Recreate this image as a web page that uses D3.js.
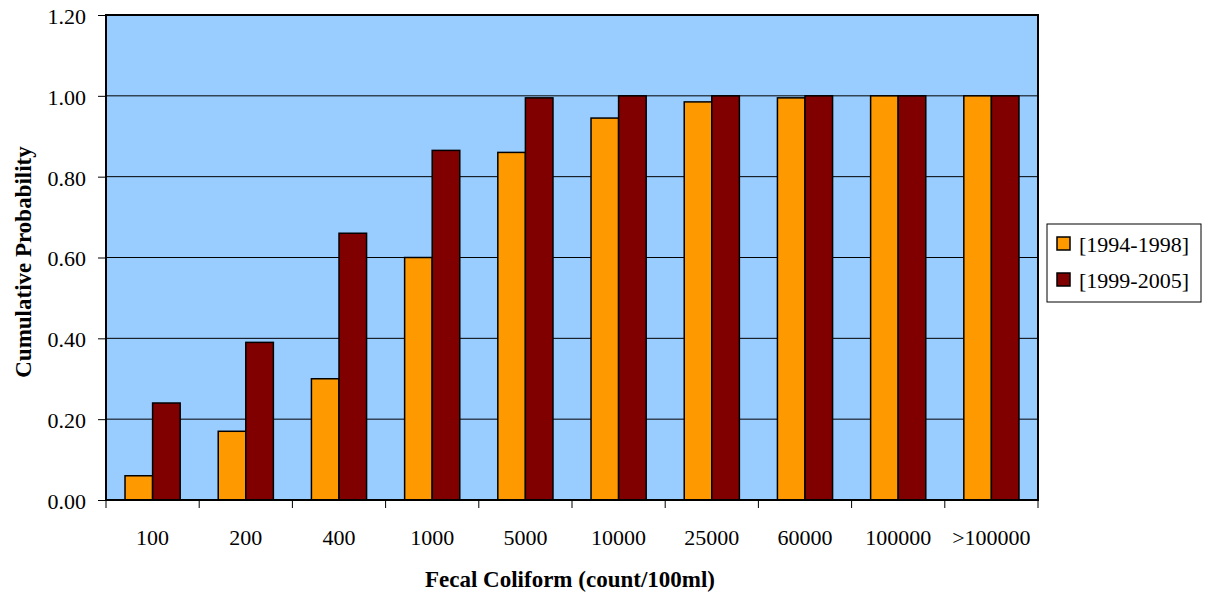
<!DOCTYPE html>
<html>
<head>
<meta charset="utf-8">
<script src="https://cdn.jsdelivr.net/npm/d3@7"></script>
<style>
  body { margin: 0; background: #fff; }
  text { font-family: "Liberation Serif", "Times New Roman", serif; fill: #000; }
</style>
</head>
<body>
<script>
(function (d3) {
    "use strict";

    /***** Data *****/
    var categories = ["100", "200", "400", "1000", "5000", "10000", "25000", "60000", "100000", ">100000"];
    var seriesNames = ["[1994-1998]", "[1999-2005]"];
    var values1994 = [0.06, 0.17, 0.30, 0.60, 0.86, 0.945, 0.985, 0.995, 1.00, 1.00];
    var values1999 = [0.24, 0.39, 0.66, 0.865, 0.995, 1.00, 1.00, 1.00, 1.00, 1.00];
    var yTicks = [0, 0.2, 0.4, 0.6, 0.8, 1.0, 1.2];
    var colors = ["#FF9900", "#800000"];

    /***** Configuration *****/
    var width = 1210, height = 596;
    var plot = { left: 106, top: 15, right: 1038, bottom: 500 };

    var svg = d3.select("body").append("svg")
        .attr("width", width)
        .attr("height", height);

    /***** Scales *****/
    var xScale = d3.scaleBand().domain(categories).range([plot.left, plot.right]);
    var xInner = d3.scaleBand().domain([0, 1])
        .range([0, xScale.bandwidth()])
        .paddingInner(0)
        .paddingOuter(0.69);
    var yScale = d3.scaleLinear().domain([0, 1.2]).range([plot.bottom, plot.top]);

    /***** Plot background *****/
    svg.append("rect")
        .attr("x", plot.left).attr("y", plot.top)
        .attr("width", plot.right - plot.left)
        .attr("height", plot.bottom - plot.top)
        .attr("fill", "#99CCFF");

    // gridlines
    svg.append("g").selectAll("line")
        .data(yTicks.filter(function (t) { return t > 0 && t < 1.2; }))
        .join("line")
        .attr("x1", plot.left).attr("x2", plot.right)
        .attr("y1", function (d) { return yScale(d); })
        .attr("y2", function (d) { return yScale(d); })
        .attr("stroke", "#000").attr("stroke-width", 1);

    /***** Bars *****/
    var series = [values1994, values1999];
    series.forEach(function (vals, si) {
        svg.append("g").selectAll("rect")
            .data(vals)
            .join("rect")
            .attr("x", function (d, i) { return xScale(categories[i]) + xInner(si); })
            .attr("y", function (d) { return yScale(d); })
            .attr("width", xInner.bandwidth())
            .attr("height", function (d) { return plot.bottom - yScale(d); })
            .attr("fill", colors[si])
            .attr("stroke", "#000")
            .attr("stroke-width", 1.5);
    });

    // plot border
    svg.append("rect")
        .attr("x", plot.left).attr("y", plot.top)
        .attr("width", plot.right - plot.left)
        .attr("height", plot.bottom - plot.top)
        .attr("fill", "none")
        .attr("stroke", "#000").attr("stroke-width", 2);

    /***** Axes *****/
    var yAxis = d3.axisLeft(yScale)
        .tickValues(yTicks)
        .tickFormat(d3.format(".2f"))
        .tickSize(8)
        .tickPadding(12);
    var gy = svg.append("g")
        .attr("transform", "translate(" + plot.left + ",0)")
        .call(yAxis);
    gy.select(".domain").remove();
    gy.selectAll("line").attr("stroke", "#000");
    gy.selectAll("text")
        .style("font-family", "'Liberation Serif', serif")
        .style("font-size", "22px")
        .attr("dy", "0.38em");

    // x ticks at category boundaries
    var bounds = categories.map(function (c) { return xScale(c); }).concat([plot.right]);
    svg.append("g").selectAll("line")
        .data(bounds)
        .join("line")
        .attr("x1", function (d) { return d; }).attr("x2", function (d) { return d; })
        .attr("y1", plot.bottom).attr("y2", plot.bottom + 8)
        .attr("stroke", "#000").attr("stroke-width", 1);

    svg.append("g").selectAll("text")
        .data(categories)
        .join("text")
        .attr("x", function (d) { return xScale(d) + xScale.bandwidth() / 2; })
        .attr("y", 545)
        .attr("text-anchor", "middle")
        .style("font-size", "22px")
        .text(function (d) { return d; });

    /***** Axis titles *****/
    svg.append("text")
        .attr("x", 570)
        .attr("y", 587)
        .attr("text-anchor", "middle")
        .style("font-size", "23px")
        .style("font-weight", "bold")
        .text("Fecal Coliform (count/100ml)");

    svg.append("text")
        .attr("transform", "translate(31,262) rotate(-90)")
        .attr("text-anchor", "middle")
        .style("font-size", "23px")
        .style("font-weight", "bold")
        .text("Cumulative Probability");

    /***** Legend *****/
    var legend = svg.append("g").attr("transform", "translate(1047,224)");
    legend.append("rect")
        .attr("width", 154).attr("height", 78)
        .attr("fill", "#fff").attr("stroke", "#000").attr("stroke-width", 1);
    seriesNames.forEach(function (name, i) {
        var row = legend.append("g").attr("transform", "translate(0," + (i * 36) + ")");
        row.append("rect")
            .attr("x", 10).attr("y", 13)
            .attr("width", 13).attr("height", 13)
            .attr("fill", colors[i]).attr("stroke", "#000").attr("stroke-width", 1.5);
        row.append("text")
            .attr("x", 32).attr("y", 28)
            .style("font-size", "22px")
            .text(name);
    });

})(d3);
</script>
</body>
</html>
